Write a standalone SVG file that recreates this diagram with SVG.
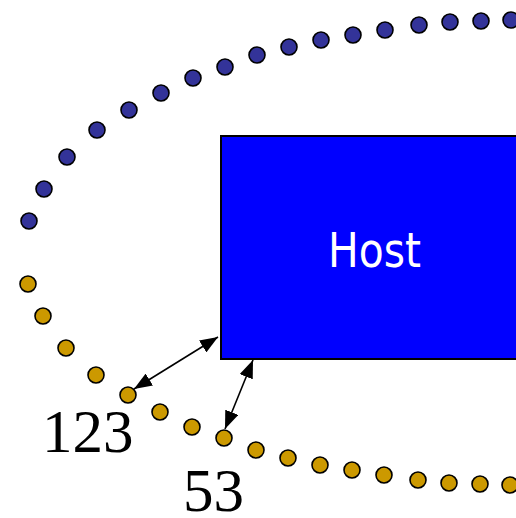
<svg xmlns="http://www.w3.org/2000/svg" width="516" height="518" viewBox="0 0 516 518">
  <defs>
    <style>
      .blue { fill: #333399; stroke: #000; stroke-width: 1.6; }
      .gold { fill: #cc9900; stroke: #000; stroke-width: 1.6; }
      .conn { stroke: #000; stroke-width: 1.6; fill: none; marker-start: url(#head); marker-end: url(#head); }
      .num { font-family: "Liberation Serif", "Times New Roman", serif; font-size: 61px; fill: #000; }
      .host-label { font-family: "DejaVu Sans", Verdana, sans-serif; font-size: 48px; fill: #fff; }
    </style>
    <marker id="head" viewBox="0 0 18 14" refX="18" refY="7" markerWidth="18" markerHeight="14" markerUnits="userSpaceOnUse" orient="auto-start-reverse">
      <path d="M0,0 L18,7 L0,14 z" fill="#000"/>
    </marker>
  </defs>
  <rect width="516" height="518" fill="#fff"/>

  <!-- upper dotted path -->
  <g id="path-upper">
    <circle class="blue" cx="29" cy="221" r="8"/>
    <circle class="blue" cx="44" cy="189" r="8"/>
    <circle class="blue" cx="67" cy="157" r="8"/>
    <circle class="blue" cx="97" cy="130" r="8"/>
    <circle class="blue" cx="129" cy="110" r="8"/>
    <circle class="blue" cx="161" cy="93" r="8"/>
    <circle class="blue" cx="193" cy="78" r="8"/>
    <circle class="blue" cx="225" cy="67" r="8"/>
    <circle class="blue" cx="257" cy="55" r="8"/>
    <circle class="blue" cx="289" cy="47" r="8"/>
    <circle class="blue" cx="321" cy="40" r="8"/>
    <circle class="blue" cx="353" cy="35" r="8"/>
    <circle class="blue" cx="385" cy="30" r="8"/>
    <circle class="blue" cx="419" cy="25" r="8"/>
    <circle class="blue" cx="450" cy="22" r="8"/>
    <circle class="blue" cx="481" cy="21" r="8"/>
    <circle class="blue" cx="511" cy="20" r="8"/>
  </g>

  <!-- lower dotted path -->
  <g id="path-lower">
    <circle class="gold" cx="28" cy="284" r="8"/>
    <circle class="gold" cx="43" cy="316" r="8"/>
    <circle class="gold" cx="66" cy="348" r="8"/>
    <circle class="gold" cx="96" cy="375" r="8"/>
    <circle class="gold" cx="128" cy="395" r="8"/>
    <circle class="gold" cx="160" cy="412" r="8"/>
    <circle class="gold" cx="192" cy="427" r="8"/>
    <circle class="gold" cx="224" cy="438" r="8"/>
    <circle class="gold" cx="256" cy="450" r="8"/>
    <circle class="gold" cx="288" cy="458" r="8"/>
    <circle class="gold" cx="320" cy="465" r="8"/>
    <circle class="gold" cx="352" cy="470" r="8"/>
    <circle class="gold" cx="384" cy="475" r="8"/>
    <circle class="gold" cx="418" cy="480" r="8"/>
    <circle class="gold" cx="449" cy="483" r="8"/>
    <circle class="gold" cx="480" cy="484" r="8"/>
    <circle class="gold" cx="510" cy="485" r="8"/>
  </g>

  <!-- host box -->
  <g id="host">
    <rect x="221" y="136" width="310" height="223" fill="#0000ff" stroke="#000" stroke-width="2"/>
    <text class="host-label" x="328" y="267" textLength="93" lengthAdjust="spacingAndGlyphs">Host</text>
  </g>

  <!-- connectors -->
  <g id="connectors">
    <line class="conn" x1="218" y1="337" x2="134" y2="389"/>
    <line class="conn" x1="253" y1="360" x2="225" y2="429"/>
  </g>

  <!-- port labels -->
  <g id="labels">
    <text class="num" x="42" y="452">123</text>
    <text class="num" x="183" y="511">53</text>
  </g>
</svg>
